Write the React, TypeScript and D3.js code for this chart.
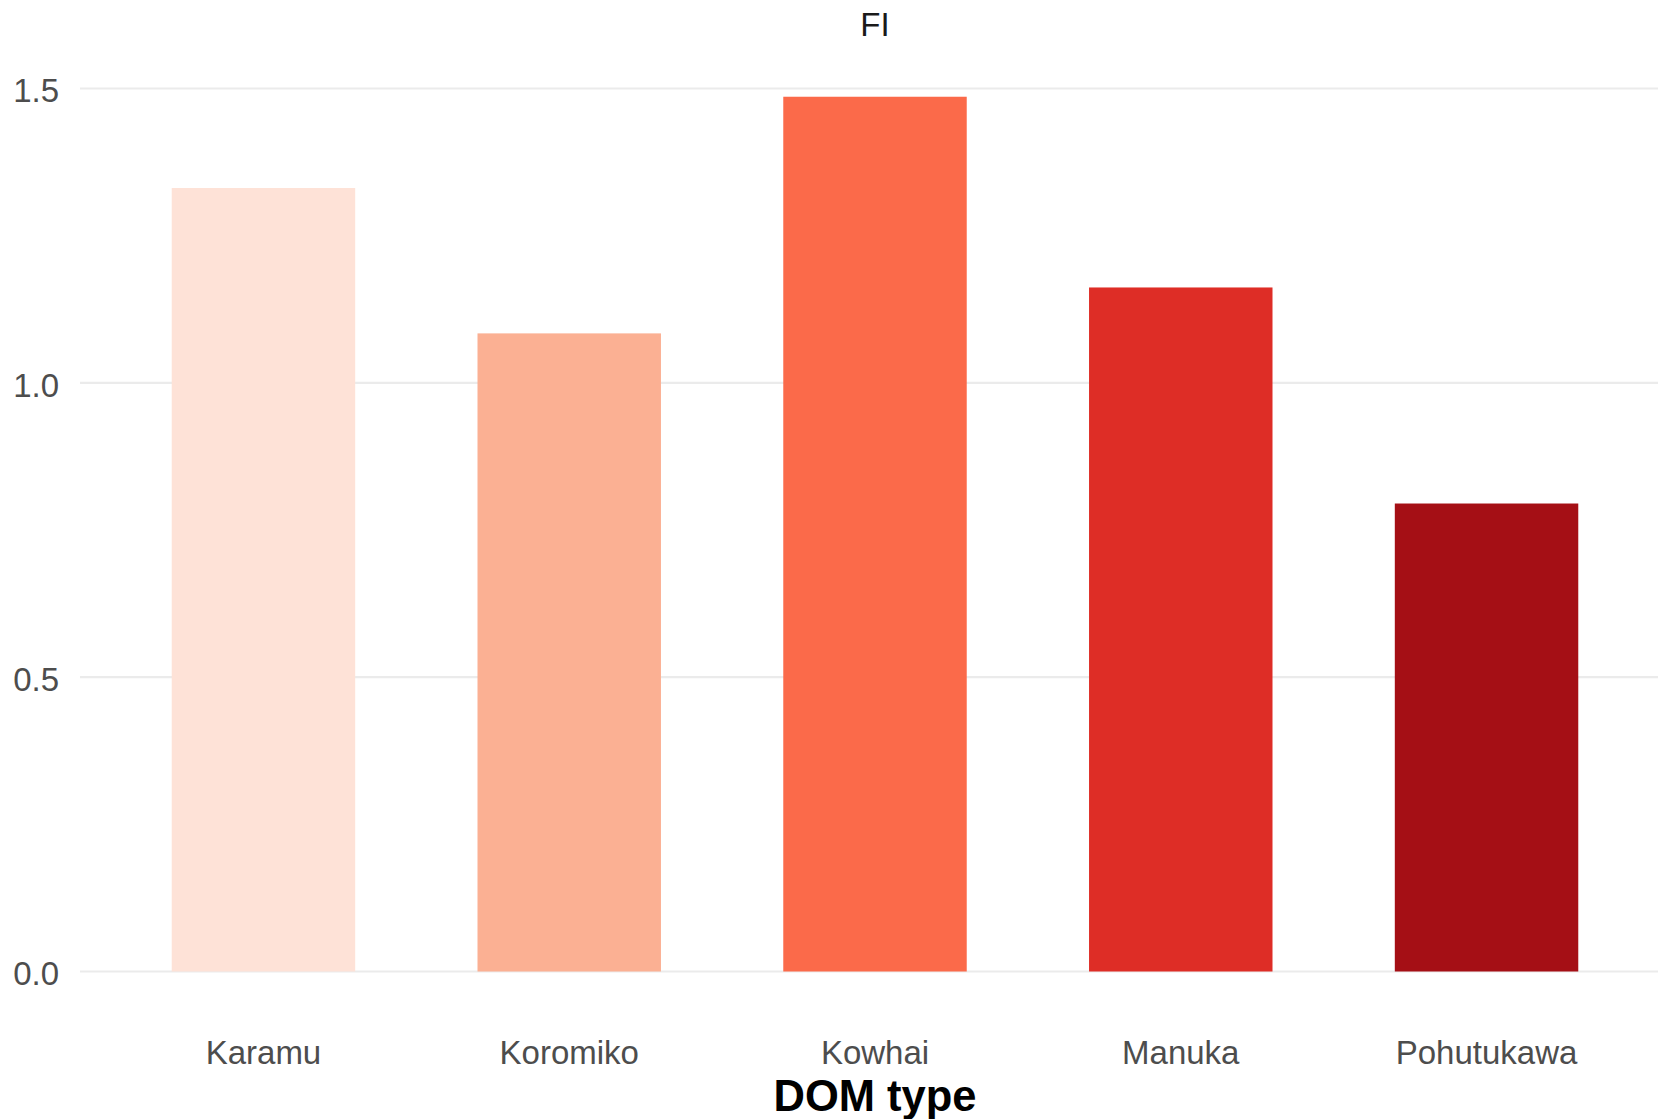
import React from "react";
import * as d3 from "d3";

const categories = ["Karamu", "Koromiko", "Kowhai", "Manuka", "Pohutukawa"];
const fiValues = [1.331, 1.084, 1.486, 1.162, 0.795];
const barColors = ["#FEE2D7", "#FBB093", "#FB6A4A", "#DE2D26", "#A50F15"];
const yTicks = [0, 0.5, 1.0, 1.5];

const width = 1658;
const height = 1119;

export default function App() {
  // panel runs past the right edge, as in the reference
  const x = d3
    .scaleBand<string>()
    .domain(categories)
    .range([80, 1670])
    .paddingInner(0.4)
    .paddingOuter(0.3);

  const y = d3.scaleLinear().domain([0, 1.5]).range([971.5, 88.5]);

  const font = "'Liberation Sans', Arial, sans-serif";

  return (
    <svg
      width={width}
      height={height}
      style={{ position: "absolute", left: 0, top: 0, display: "block", background: "#fff" }}
    >
      {/* gridlines */}
      {yTicks.map((t) => (
        <line
          key={t}
          x1={80}
          x2={width}
          y1={y(t)}
          y2={y(t)}
          stroke="#EBEBEB"
          strokeWidth={2.2}
        />
      ))}

      {/* bars */}
      {categories.map((c, i) => (
        <rect
          key={c}
          x={x(c)}
          y={y(fiValues[i])}
          width={x.bandwidth()}
          height={y(0) - y(fiValues[i])}
          fill={barColors[i]}
        />
      ))}

      {/* y tick labels */}
      {yTicks.map((t) => (
        <text
          key={t}
          x={59}
          y={y(t) + 2}
          dy="0.36em"
          textAnchor="end"
          fontFamily={font}
          fontSize={33}
          fill="#4D4D4D"
        >
          {d3.format(".1f")(t)}
        </text>
      ))}

      {/* x tick labels */}
      {categories.map((c) => (
        <text
          key={c}
          x={(x(c) ?? 0) + x.bandwidth() / 2}
          y={1064}
          textAnchor="middle"
          fontFamily={font}
          fontSize={33}
          fill="#4D4D4D"
        >
          {c}
        </text>
      ))}

      {/* title */}
      <text
        x={875}
        y={36}
        textAnchor="middle"
        fontFamily={font}
        fontSize={33}
        fill="#1A1A1A"
      >
        FI
      </text>

      {/* x axis title */}
      <text
        x={875}
        y={1111}
        textAnchor="middle"
        fontFamily={font}
        fontSize={43.5}
        fontWeight="bold"
        fill="#000"
      >
        DOM type
      </text>
    </svg>
  );
}
